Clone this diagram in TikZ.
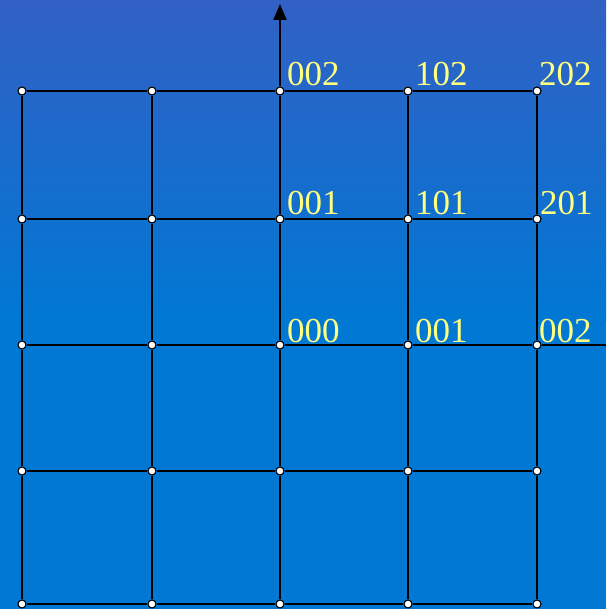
\documentclass[tikz,border=0pt]{standalone}
\usepackage{fontspec}
\setmainfont{Liberation Serif}
\usetikzlibrary{arrows.meta, positioning}
\definecolor{bgtop}{HTML}{3260C4}
\definecolor{bgbottom}{HTML}{0078D4}
\definecolor{lblyellow}{HTML}{FFFF80}

\begin{document}
\begin{tikzpicture}[x=1pt, y=-1pt,
      vtx/.style={circle, draw=black, fill=white, line width=1.1pt, inner sep=0pt, minimum size=8pt},
      gridline/.style={line width=2.2pt, draw=black},
      lbl/.style={anchor=base west, inner sep=0pt, text=lblyellow, font=\fontsize{35}{35}\selectfont}
    ]
      \fill[top color=bgtop, bottom color=bgbottom] (0,0) rectangle (606,321);
      \fill[bgbottom] (0,320) rectangle (606,609);
      \useasboundingbox (0,0) rectangle (606,609);

      \foreach \x [count=\i from 0] in {22,152,280,408,537} {
        \foreach \y [count=\j from 0] in {91,219,345,471,604} {
          \node[vtx] (v\i\j) at (\x,\y) {};
        }
      }

      \coordinate (xend) at (606,345);
      \coordinate (ytip) at (280,4);

      \foreach \i in {0,...,4} {
        \draw[gridline] (v\i0) -- (v\i1) -- (v\i2) -- (v\i3) -- (v\i4);
        \draw[gridline] (v0\i) -- (v1\i) -- (v2\i) -- (v3\i) -- (v4\i);
      }
      \draw[gridline] (v42) -- (xend);
      \draw[gridline, -{Triangle[length=16pt, width=13pt]}] (v20) -- (ytip);

      \foreach \i/\j/\t/\dx/\dy in {2/0/002/7/5, 3/0/102/7/5, 4/0/202/2/5,
                                  2/1/001/7/4, 3/1/101/7/4, 4/1/201/3/4,
                                  2/2/000/7/3, 3/2/001/7/3, 4/2/002/2/3} {
        \node[lbl, xshift=\dx pt, yshift=\dy pt] (t\i\j) at (v\i\j.center) {\t};
      }
    \end{tikzpicture}
\end{document}
